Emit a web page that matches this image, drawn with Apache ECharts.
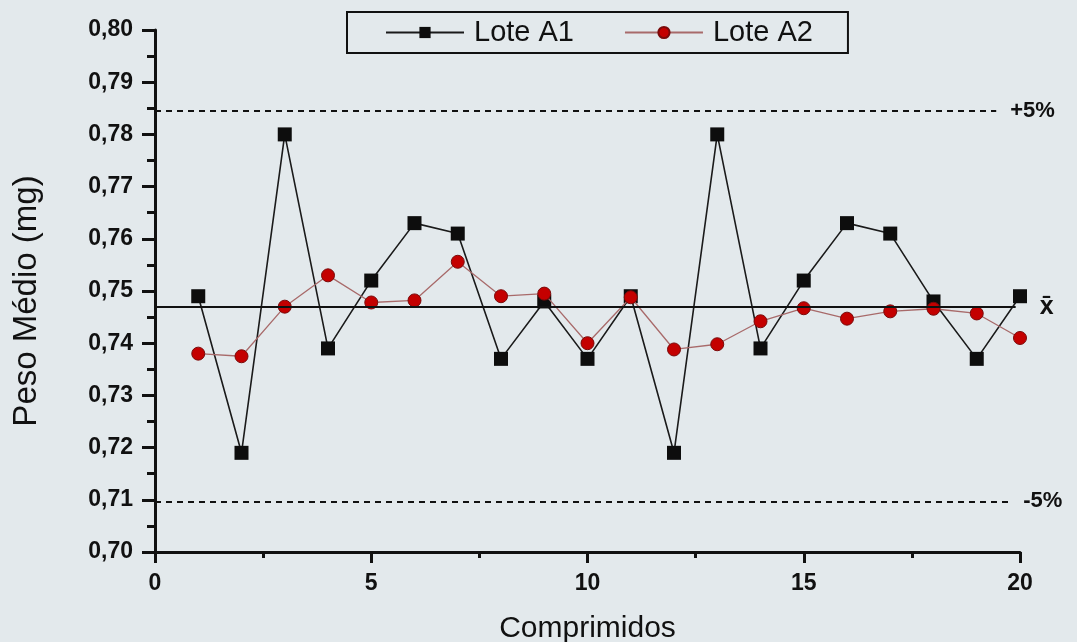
<!DOCTYPE html>
<html>
<head>
<meta charset="utf-8">
<script src="https://cdn.jsdelivr.net/npm/echarts@6/dist/echarts.min.js"></script>
<style>
html,body{margin:0;padding:0;background:#e3e9ec;}
#c{width:1077px;height:642px;}
</style>
</head>
<body>
<div id="c"></div>
<script>
var comprimidos = [1,2,3,4,5,6,7,8,9,10,11,12,13,14,15,16,17,18,19,20];
var loteA1 = [0.749,0.719,0.780,0.739,0.752,0.763,0.761,0.737,0.748,0.737,0.749,0.719,0.780,0.739,0.752,0.763,0.761,0.748,0.737,0.749];
var loteA2 = [0.738,0.7375,0.747,0.753,0.7478,0.7482,0.7556,0.749,0.7495,0.740,0.7488,0.7388,0.7398,0.7442,0.7467,0.7447,0.7461,0.7466,0.7457,0.741];
var refValues = [0.7845, 0.747, 0.7097];
var refLabels = ['+5%', 'x\u0304', '-5%'];
var refEnds = [19.45, 19.9, 19.75];
var yTicks = {min:0.70, max:0.80, interval:0.01};
var xTicks = {min:0, max:20, interval:5};

function pairs(vals){ return comprimidos.map(function(x,i){ return [x, vals[i]]; }); }

var refData = refValues.map(function(v,i){
  return [
    {coord:[0,v], lineStyle:{type: i===1 ? 'solid' : [6,5], width: i===1 ? 2 : 1.8, color:'#111'},
     label:{show:true, position:'end', formatter: refLabels[i], distance: i===1 ? 24 : 14,
            color:'#111', fontWeight:'bold', fontSize: i===1 ? 25 : 22, fontFamily:'Liberation Sans'}},
    {coord:[refEnds[i], v]}
  ];
});

var chart = echarts.init(document.getElementById('c'), null, {renderer:'canvas'});
chart.setOption({
  backgroundColor:'#e3e9ec',
  animation:false,
  grid:{left:155, right:57, top:30, bottom:90, containLabel:false, outerBoundsMode:'none'},
  legend:{
    left:347, top:12,
    padding:[6,35,6,38],
    itemGap:50, itemWidth:78, itemHeight:14,
    borderColor:'#111', borderWidth:2,
    textStyle:{fontSize:29, color:'#111', fontFamily:'Liberation Sans', padding:[0,0,0,5]},
    data:['Lote A1','Lote A2']
  },
  xAxis:{
    type:'value', min:xTicks.min, max:xTicks.max, interval:xTicks.interval,
    name:'Comprimidos', nameLocation:'middle', nameGap:62,
    nameTextStyle:{fontSize:30, color:'#111', fontFamily:'Liberation Sans'},
    axisLine:{lineStyle:{color:'#111', width:3}},
    axisTick:{inside:false, length:11, lineStyle:{color:'#111', width:3}},
    minorTick:{show:true, splitNumber:2, length:6, lineStyle:{color:'#111', width:3}},
    axisLabel:{margin:20, fontSize:23, fontWeight:'bold', color:'#111', fontFamily:'Liberation Sans'},
    splitLine:{show:false}
  },
  yAxis:{
    type:'value', min:yTicks.min, max:yTicks.max, interval:yTicks.interval,
    name:'Peso Médio (mg)', nameLocation:'middle', nameGap:112,
    nameTextStyle:{fontSize:33, color:'#111', fontFamily:'Liberation Sans', padding:[0,20,0,0]},
    axisLine:{show:true, lineStyle:{color:'#111', width:3}},
    axisTick:{show:true, inside:false, length:13, lineStyle:{color:'#111', width:3}},
    minorTick:{show:true, splitNumber:2, length:8, lineStyle:{color:'#111', width:3}},
    axisLabel:{margin:22, fontSize:23, fontWeight:'bold', color:'#111', fontFamily:'Liberation Sans',
      formatter:function(v){ return v.toFixed(2).replace('.', ','); }},
    splitLine:{show:false}
  },
  series:[
    {
      name:'Lote A1', type:'line', data:pairs(loteA1),
      symbol:'rect', symbolSize:14,
      itemStyle:{color:'#0d0d0d'},
      lineStyle:{color:'#1a1a1a', width:1.6},
      z:3,
      markLine:{silent:true, symbol:['none','none'], animation:false, data:refData}
    },
    {
      name:'Lote A2', type:'line', data:pairs(loteA2),
      symbol:'circle', symbolSize:13,
      itemStyle:{color:'#c40000', borderColor:'#7a0a0a', borderWidth:1},
      lineStyle:{color:'#a86a6a', width:1.3},
      z:4
    }
  ]
});
</script>
</body>
</html>
